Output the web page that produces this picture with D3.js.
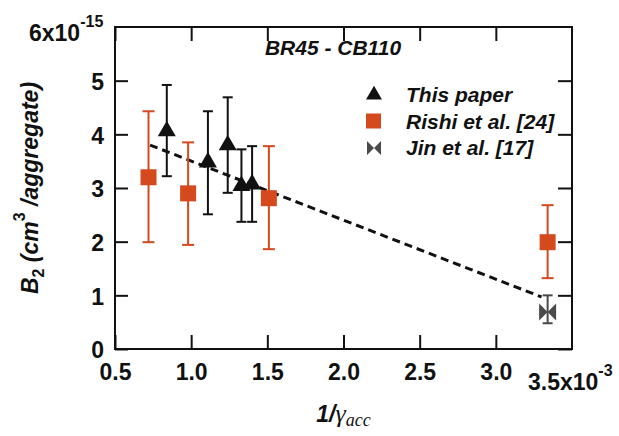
<!DOCTYPE html>
<html>
<head>
<meta charset="utf-8">
<script src="https://cdn.jsdelivr.net/npm/d3@7"></script>
<style>
  body { margin: 0; background: #fff; }
  svg text { font-family: "Liberation Sans", Arial, sans-serif; font-weight: bold; fill: #111; }
</style>
</head>
<body>
<div id="chart"></div>
<script>
// data (x in units of 1e-3, y in units of 1e-15)
const thisX  = [0.84, 1.11, 1.24, 1.33, 1.40];
const thisY  = [4.06, 3.48, 3.80, 3.04, 3.07];
const thisLo = [3.22, 2.51, 2.91, 2.37, 2.37];
const thisHi = [4.92, 4.43, 4.69, 3.72, 3.78];

const rishiX  = [0.72, 0.98, 1.51, 3.34];
const rishiY  = [3.20, 2.90, 2.81, 1.99];
const rishiLo = [1.99, 1.94, 1.86, 1.32];
const rishiHi = [4.43, 3.85, 3.78, 2.68];

const jinX  = [3.34];
const jinY  = [0.69];
const jinLo = [0.48];
const jinHi = [1.00];

const fitX = [0.73, 3.30];
const fitY = [3.80, 0.97];

const xTicks = [0.5, 1.0, 1.5, 2.0, 2.5, 3.0];
const yTicks = [0, 1, 2, 3, 4, 5];
const legendNames = ["This paper", "Rishi et al. [24]", "Jin et al. [17]"];

const margin = {top: 27, right: 47, bottom: 87, left: 115},
      width = 619 - margin.left - margin.right,
      height = 436 - margin.top - margin.bottom;

const orange = "#d4491d", grey = "#4a4a4a";

const svg = d3.select("#chart")
    .append("svg")
        .attr("width", 619)
        .attr("height", 436)
    .append("g")
        .attr("transform", `translate(${margin.left},${margin.top})`);

const x = d3.scaleLinear().domain([0.5, 3.5]).range([0, width]);
const y = d3.scaleLinear().domain([0, 6]).range([height, 0]);

// axes (ticks point inward)
svg.append("g")
    .attr("transform", `translate(0,${height})`)
    .call(d3.axisBottom(x).tickValues(xTicks).tickSize(-14).tickPadding(15).tickFormat(d3.format(".1f")));
svg.append("g").call(d3.axisTop(x).tickValues(xTicks).tickSize(-14).tickFormat(""));
const left = svg.append("g")
    .call(d3.axisLeft(y).tickValues(yTicks).tickSize(-13).tickPadding(11).tickFormat(d3.format("d")));
svg.append("g").attr("transform", `translate(${width},0)`)
    .call(d3.axisRight(y).tickValues(yTicks).tickSize(-14).tickFormat(""));

svg.selectAll(".domain").remove();
svg.selectAll(".tick line").attr("stroke", "#111").attr("stroke-width", 2);
svg.selectAll(".tick text").style("font-size", "23px").attr("fill", "#111");
left.selectAll(".tick text").attr("dy", "0.38em");

svg.append("rect")
    .attr("width", width).attr("height", height)
    .attr("fill", "none").attr("stroke", "#111").attr("stroke-width", 2);

// end labels with exponents
const yTop = svg.append("text").attr("x", -86).attr("y", 14)
    .style("font-size", "23px");
yTop.append("tspan").text("6x10");
yTop.append("tspan").attr("dy", -14).style("font-size", "16px").text("-15");

const xEnd = svg.append("text").attr("x", 413).attr("y", height + 41)
    .style("font-size", "23px");
xEnd.append("tspan").text("3.5x10");
xEnd.append("tspan").attr("dy", -14).style("font-size", "16px").text("-3");

// axis titles
const xl = svg.append("text")
    .attr("x", width / 2).attr("y", height + 73)
    .attr("text-anchor", "middle");
xl.append("tspan").style("font-size", "23px").style("font-style", "italic").text("1/");
xl.append("tspan").style("font-family", "Liberation Serif, serif").style("font-style", "italic")
    .style("font-weight", "normal").style("font-size", "26px").text("γ");
xl.append("tspan").attr("dy", 4).style("font-family", "Liberation Serif, serif").style("font-style", "italic")
    .style("font-weight", "normal").style("font-size", "18px").text("acc");

const yl = svg.append("text")
    .attr("transform", `translate(${-77},${height / 2}) rotate(-90)`)
    .attr("text-anchor", "middle")
    .style("font-size", "23px").style("font-style", "italic");
yl.append("tspan").text("B");
yl.append("tspan").attr("dy", 6).style("font-size", "16px").style("font-style", "normal").text("2");
yl.append("tspan").attr("dy", -6).text(" (cm");
yl.append("tspan").attr("dy", -13).style("font-size", "16px").style("font-style", "normal").text("3");
yl.append("tspan").attr("dy", 13).text(" /aggregate)");

// title
svg.append("text").attr("x", 218).attr("y", 28)
    .attr("text-anchor", "middle").style("font-size", "21px").style("font-style", "italic")
    .text("BR45 - CB110");

// fit line
const fit = fitX.map((v, i) => [x(v), y(fitY[i])]);
svg.append("path")
    .attr("d", d3.line()(fit))
    .attr("stroke", "#111").attr("stroke-width", 3)
    .attr("stroke-dasharray", "8,5").attr("fill", "none");

// error bars
function errorBars(xs, lo, hi, color, cap, sw) {
    const g = svg.append("g").attr("stroke", color).attr("stroke-width", sw);
    xs.forEach((v, i) => {
        const cx = x(v);
        g.append("line").attr("x1", cx).attr("x2", cx).attr("y1", y(lo[i])).attr("y2", y(hi[i]));
        g.append("line").attr("x1", cx - cap).attr("x2", cx + cap).attr("y1", y(lo[i])).attr("y2", y(lo[i]));
        g.append("line").attr("x1", cx - cap).attr("x2", cx + cap).attr("y1", y(hi[i])).attr("y2", y(hi[i]));
    });
}
errorBars(rishiX, rishiLo, rishiHi, orange, 6, 2);
errorBars(thisX, thisLo, thisHi, "#111", 5, 2);
errorBars(jinX, jinLo, jinHi, grey, 5, 2);

const tri = d3.symbol().type(d3.symbolTriangle).size(140);
const bowtie = s => `M${-s},${-s}L0,0L${-s},${s}ZM${s},${-s}L0,0L${s},${s}Z`;

svg.selectAll(".sq").data(rishiX).enter().append("rect")
    .attr("x", d => x(d) - 8).attr("y", (d, i) => y(rishiY[i]) - 8)
    .attr("width", 16).attr("height", 16).attr("fill", orange);

svg.selectAll(".tri").data(thisX).enter().append("path")
    .attr("d", tri)
    .attr("transform", (d, i) => `translate(${x(d)},${y(thisY[i])})`)
    .attr("fill", "#111");

svg.selectAll(".bow").data(jinX).enter().append("path")
    .attr("d", bowtie(8.5))
    .attr("transform", (d, i) => `translate(${x(d)},${y(jinY[i])})`)
    .attr("fill", grey);

// legend
const legend = svg.selectAll(".legend").data(legendNames).enter().append("g")
    .attr("transform", (d, i) => `translate(${259},${68 + i * 26.5})`);
legend.each(function(d, i) {
    const g = d3.select(this);
    if (i === 0) g.append("path").attr("d", d3.symbol().type(d3.symbolTriangle).size(110)).attr("fill", "#111");
    if (i === 1) g.append("rect").attr("x", -8).attr("y", -8).attr("width", 15).attr("height", 15).attr("fill", orange);
    if (i === 2) g.append("path").attr("d", bowtie(7)).attr("fill", grey);
});
legend.append("text").attr("x", 32).attr("y", 7)
    .style("font-size", "21px").style("font-style", "italic")
    .text(d => d);
</script>
</body>
</html>
